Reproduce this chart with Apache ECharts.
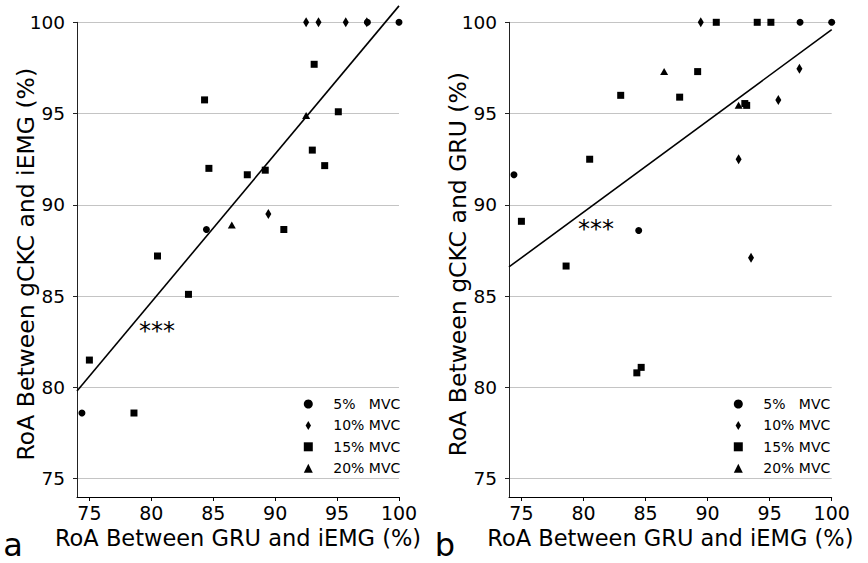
<!DOCTYPE html>
<html><head><meta charset="utf-8">
<script src="https://cdn.jsdelivr.net/npm/echarts@6/dist/echarts.min.js"></script>
<style>html,body{margin:0;padding:0;background:#fff}#c{width:868px;height:563px}</style>
</head><body><div id="c"></div>
<script>
// ---- data ----
const seriesNames = ['5%   MVC', '10% MVC', '15% MVC', '20% MVC'];
const axisTicks = [75, 80, 85, 90, 95, 100];
const xTitle = 'RoA Between GRU and iEMG (%)';
const yTitleA = 'RoA Between gCKC and iEMG (%)';
const yTitleB = 'RoA Between gCKC and GRU (%)';
// x: RoA between GRU and iEMG (shared by both panels); A: panel a y, B: panel b y
const mvc5X  = [74.4, 84.45, 97.45, 100];
const mvc5A  = [78.6, 88.65, 100, 100];
const mvc5B  = [91.65, 88.6, 100, 100];
const mvc10X = [89.45, 92.5, 93.5, 95.7, 97.4];
const mvc10A = [89.5, 100, 100, 100, 100];
const mvc10B = [100, 92.5, 87.1, 95.75, 97.45];
const mvc15X = [75.0, 78.6, 80.5, 83.0, 84.3, 84.65, 87.75, 89.2, 90.7, 93.0, 93.15, 94.0, 95.1];
const mvc15A = [81.5, 78.6, 87.2, 85.1, 95.75, 92.0, 91.65, 91.9, 88.65, 93.0, 97.7, 92.15, 95.1];
const mvc15B = [89.1, 86.65, 92.5, 96.0, 80.8, 81.1, 95.9, 97.3, 100, 95.55, 95.45, 100, 100];
const mvc20X = [86.5, 92.5];
const mvc20A = [88.9, 94.9];
const mvc20B = [97.3, 95.45];
// fitted regression lines (end points)
const fitA = [[74, 79.8], [100, 100.9]];
const fitB = [[74, 86.6], [100, 99.6]];

// ---- styling ----
const FONT = 'DejaVu Sans';
const diamondPath = 'path://M3,0L6,5L3,10L0,5Z';
const symbols = ['circle', diamondPath, 'rect', 'triangle'];
const symSizes = [7, [6, 10], 7, [8, 7]];
const groupsX = [mvc5X, mvc10X, mvc15X, mvc20X];
const groupsA = [mvc5A, mvc10A, mvc15A, mvc20A];
const groupsB = [mvc5B, mvc10B, mvc15B, mvc20B];

function zip(xs, ys) { return xs.map((x, i) => [x, ys[i]]); }

const grids = [
  { left: 77, top: 22.3, width: 322, bottom: 66 },
  { left: 509, top: 22.3, width: 322.7, bottom: 66 }
];

function xAxis(i) {
  return {
    type: 'value', gridIndex: i, min: 74, max: 100, splitNumber: 5,
    name: xTitle, nameLocation: 'middle', nameGap: 29, nameMoveOverlap: false,
    nameTextStyle: { fontSize: 22.5, color: '#000', fontFamily: FONT },
    axisLine: { show: true, lineStyle: { color: '#000', width: 1 } },
    axisTick: { show: true, length: 4, customValues: axisTicks, lineStyle: { color: '#000' } },
    axisLabel: { fontSize: 19, color: '#000', margin: 6, fontFamily: FONT, customValues: axisTicks },
    splitLine: { show: false }
  };
}
function yAxis(i, title, gap) {
  return {
    type: 'value', gridIndex: i, min: 74, max: 100, splitNumber: 5,
    name: title, nameLocation: 'middle', nameGap: gap, nameMoveOverlap: false,
    nameTextStyle: { fontSize: 23.5, color: '#000', fontFamily: FONT, padding: [0, 9, 0, 0] },
    axisLine: { show: true, lineStyle: { color: '#222', width: 1 } },
    axisTick: { show: true, length: 4, customValues: axisTicks, lineStyle: { color: '#222' } },
    axisLabel: { fontSize: 18.5, color: '#000', margin: 12, fontFamily: FONT, customValues: axisTicks },
    splitLine: { show: true, lineStyle: { color: '#c4c4c4', width: 1 } }
  };
}

const series = [];
[groupsA, groupsB].forEach((ys, g) => {
  seriesNames.forEach((nm, k) => {
    series.push({
      type: 'scatter', name: nm, xAxisIndex: g, yAxisIndex: g,
      symbol: symbols[k], symbolSize: symSizes[k],
      itemStyle: { color: '#000', opacity: 1 },
      data: zip(groupsX[k], ys[k]), z: 3
    });
  });
});
series.push({ type: 'line', xAxisIndex: 0, yAxisIndex: 0, data: fitA, symbol: 'none', clip: false,
  lineStyle: { color: '#000', width: 1.6 }, silent: true, z: 4 });
series.push({ type: 'line', xAxisIndex: 1, yAxisIndex: 1, data: fitB, symbol: 'none', clip: false,
  lineStyle: { color: '#000', width: 1.6 }, silent: true, z: 4 });

function legend(left) {
  return {
    orient: 'vertical', left: left, top: 392,
    itemWidth: 9, itemHeight: 9, itemGap: 7.4,
    itemStyle: { opacity: 1 },
    textStyle: { fontSize: 14, color: '#000', lineHeight: 14, fontFamily: FONT, padding: [0, 0, 0, 15.5] },
    data: seriesNames.map((n, k) => ({ name: n, icon: symbols[k] }))
  };
}

const chart = echarts.init(document.getElementById('c'), null, { renderer: 'svg' });
chart.setOption({
  animation: false,
  backgroundColor: '#fff',
  textStyle: { fontFamily: FONT },
  grid: grids,
  xAxis: [xAxis(0), xAxis(1)],
  yAxis: [yAxis(0, yTitleA, 39), yAxis(1, yTitleB, 39)],
  legend: [legend(298.8), legend(728.8)],
  series: series,
  graphic: [
    { type: 'text', x: 157, y: 331, style: { text: '***', fontSize: 24, fontFamily: FONT, fill: '#000', align: 'center', verticalAlign: 'middle' } },
    { type: 'text', x: 596, y: 229, style: { text: '***', fontSize: 24, fontFamily: FONT, fill: '#000', align: 'center', verticalAlign: 'middle' } },
    { type: 'text', x: 13, y: 545, style: { text: 'a', fontSize: 32, fontFamily: FONT, fill: '#000', align: 'center', verticalAlign: 'middle' } },
    { type: 'text', x: 445, y: 545, style: { text: 'b', fontSize: 32, fontFamily: FONT, fill: '#000', align: 'center', verticalAlign: 'middle' } }
  ]
});
</script></body></html>
